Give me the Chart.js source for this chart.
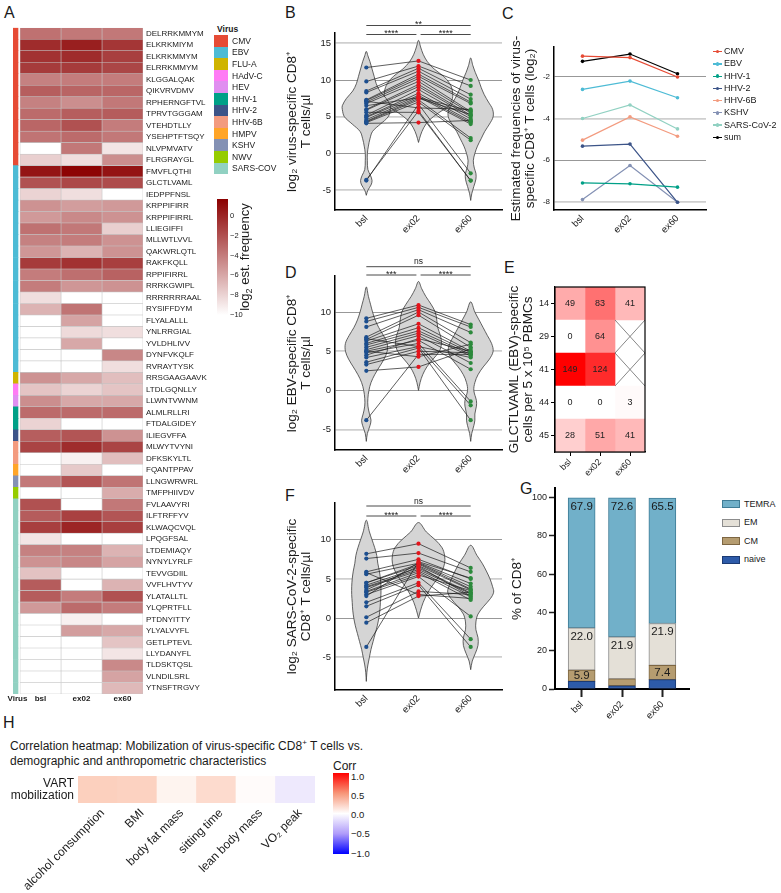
<!DOCTYPE html>
<html>
<head>
<meta charset="utf-8">
<script src="https://cdn.jsdelivr.net/npm/chart.js@4.4.1/dist/chart.umd.min.js"></script>
<style>
  body { margin: 0; background: #fff; font-family: "Liberation Sans", Arial, sans-serif; color: #1a1a1a; }
  #page { position: relative; width: 781px; height: 893px; overflow: hidden; background: #fff; }
  canvas { position: absolute; }
  .txt { position: absolute; white-space: nowrap; }
</style>
</head>
<body>
<div id="page"></div>
<script>
// ---------- Panel A: peptide heatmap ----------
const peptides = [
  "DELRRKMMYM", "ELKRKMIYM", "ELKRKMMYM", "ELRRKMMYM", "KLGGALQAK", "QIKVRVDMV", "RPHERNGFTVL", "TPRVTGGGAM",
  "VTEHDTLLY", "YSEHPTFTSQY", "NLVPMVATV", "FLRGRAYGL",
  "FMVFLQTHI", "GLCTLVAML", "IEDPPFNSL", "KRPPIFIRR", "KRPPIFIRRL", "LLIEGIFFI", "MLLWTLVVL", "QAKWRLQTL",
  "RAKFKQLL", "RPPIFIRRL", "RRRKGWIPL", "RRRRRRRAAL", "RYSIFFDYM", "FLYALALLL", "YNLRRGIAL", "YVLDHLIVV",
  "DYNFVKQLF", "RVRAYTYSK",
  "RRSGAAGAAVK", "LTDLGQNLLY", "LLWNTVWNM", "ALMLRLLRI", "FTDALGIDEY", "ILIEGVFFA", "MLWYTVYNI", "DFKSKYLTL",
  "FQANTPPAV", "LLNGWRWRL", "TMFPHIIVDV",
  "FVLAAVYRI", "ILFTRFFYV", "KLWAQCVQL", "LPQGFSAL", "LTDEMIAQY", "NYNYLYRLF", "TEVVGDIIL", "VVFLHVTYV",
  "YLATALLTL", "YLQPRTFLL", "PTDNYITTY", "YLYALVYFL", "GETLPTEVL", "LLYDANYFL", "TLDSKTQSL", "VLNDILSRL", "YTNSFTRGVY",
];
const virusNames = ["CMV", "EBV", "FLU-A", "HAdV-C", "HEV", "HHV-1", "HHV-2", "HHV-6B", "HMPV", "KSHV", "NWV", "SARS-COV"];
const virusColors = ["#E64B35", "#4DBBD5", "#CFB400", "#FF7BF5", "#E08EF0", "#00A087", "#3C5488", "#F39B7F", "#FFA528", "#8491B4", "#95CC00", "#91D1C2"];
// number of consecutive peptide rows belonging to each virus
const virusRowCounts = [12, 18, 1, 1, 1, 2, 1, 2, 1, 1, 1, 17];

// log2 estimated frequency per peptide
const freqBsl = [
  -3.5, -0.3, -0.6, -1.0, -4.2, -2.6, -4.2, -3.2, -3.0, -3.6, -10, -7.8,
  0.8, -2.0, -8.0, -5.0, -5.3, -3.5, -4.2, -5.2, -1.0, -4.0, -4.0, -8.5, -6.5, -10, -10, -10, -10, -10,
  -5.0, -7.3, -4.8, -3.2, -8.0, -2.6, -1.4, -10, -10, -3.8, -10,
  -2.0, -2.5, -1.2, -8.8, -4.2, -5.0, -7.2, -2.5, -2.5, -5.3, -10, -10, -10, -10, -10, -10, -10,
];
const freqEx02 = [
  -3.8, 0.3, -0.3, -1.0, -4.0, -2.9, -4.8, -2.6, -2.0, -3.2, -3.8, -8.5,
  1.5, -1.6, -8.5, -5.5, -4.6, -3.8, -4.0, -6.5, -0.6, -3.4, -5.2, -10, -3.6, -5.8, -8.3, -6.0, -10, -10,
  -6.0, -8.0, -6.0, -3.2, -10, -2.2, -0.3, -9.3, -7.5, -2.2, -10,
  -10, -1.3, 0.0, -10, -4.2, -4.5, -10, -10, -4.0, -3.2, -9.3, -5.5, -10, -10, -10, -10, -10,
];
const freqEx60 = [
  -3.8, -0.8, -1.2, -1.5, -4.0, -3.0, -3.8, -2.5, -4.0, -3.8, -8.8, -4.8,
  0.8, -1.8, -10, -5.3, -5.0, -7.8, -5.0, -5.0, -1.2, -2.8, -5.0, -10, -10, -10, -8.5, -10, -4.5, -8.5,
  -7.0, -7.3, -6.0, -3.2, -10, -5.0, -1.4, -7.0, -10, -3.6, -6.2,
  -3.8, -2.2, -1.2, -10, -6.5, -5.8, -10, -6.5, -2.0, -4.0, -10, -6.0, -7.3, -8.8, -4.6, -5.8, -6.8,
];
const freqColorbarTicks = [0, -2, -4, -6, -8, -10];

// ---------- Panels B, D, F: violins ----------
const groupLabels = ["bsl", "ex02", "ex60"];

const bslB = [11.7, 9.8, 8.5, 8.3, 7.3, 7.2, 7.0, 6.8, 6.0, 5.9, 5.2, 5.0, 4.9, 4.6, 4.4, 4.3, 4.2, 4.1, -3.7, -3.6, 7.1, 5.6, 6.5];
const ex02B = [12.6, 11.9, 11.6, 11.2, 10.8, 10.5, 10.2, 9.8, 9.4, 9.1, 8.7, 8.2, 7.9, 7.7, 7.5, 7.3, 7.0, 4.2, 6.7, 5.8, 6.2, 5.6, 7.6];
const ex60B = [10.0, 9.2, 8.0, 7.4, 7.0, 6.8, 5.7, 5.5, 5.2, 5.0, 4.7, 4.4, 4.2, 4.0, 5.3, 2.1, 1.8, 4.5, -2.7, -3.7, 6.0, -3.7, 5.8];

const bslD = [9.2, 8.8, 8.1, 6.8, 6.5, 6.3, 6.0, 5.8, 5.5, 5.2, 5.0, 4.8, 4.2, 3.6, 3.3, 2.5, -3.8, 5.0, 6.6, 4.5];
const ex02D = [10.9, 10.6, 10.3, 10.0, 9.6, 8.5, 8.0, 7.6, 7.3, 7.0, 6.4, 6.0, 5.6, 5.4, 5.0, 3.0, 4.6, 4.3, 5.6, 6.6];
const ex60D = [8.4, 8.1, 7.4, 6.1, 5.5, 5.0, 4.8, 4.6, 4.4, 3.5, 2.7, -1.4, -1.9, -3.8, 4.8, 5.3, 4.6, 5.9, 4.2, 5.0];

const bslF = [8.2, 7.6, 5.9, 5.6, 4.5, 4.2, 3.9, 3.4, 3.0, 2.0, 1.5, 0.1, -0.6, -3.7, 4.5, 3.6, 5.8, 3.3, 2.8, 4.0];
const ex02F = [9.5, 8.3, 7.5, 7.0, 6.7, 6.4, 6.0, 5.8, 5.3, 4.5, 4.2, 3.4, 2.8, 7.2, 6.9, 6.6, 3.0, 5.5, 7.1, 6.2];
const ex60F = [6.4, 5.9, 5.0, 4.0, 3.6, 3.2, 2.7, 2.3, 0.2, -2.7, -3.7, 3.0, 3.3, 5.1, 3.7, 2.8, 2.5, 3.5, 4.4, 3.1];

// violin outlines: density levels (y) and half widths (in category units)
const violinLevelsB_bsl = [-5.7, -5, -4.3, -3.7, -3, -2.2, -1, 0, 1, 2, 3, 4, 5, 6, 6.5, 7.5, 8.5, 9.5, 10.5, 11.5, 12.5, 13.3, 13.9];
const violinWidthsB_bsl = [0, 0.03, 0.09, 0.11, 0.08, 0.03, 0.02, 0.02, 0.04, 0.07, 0.12, 0.27, 0.42, 0.46, 0.46, 0.38, 0.26, 0.19, 0.15, 0.11, 0.07, 0.03, 0];
const violinLevelsB_ex02 = [1.5, 2.5, 3.5, 4.5, 5.5, 6.5, 7.5, 8.5, 9.5, 10.5, 11.5, 12.5, 13.5, 14.5, 15.4];
const violinWidthsB_ex02 = [0, 0.04, 0.1, 0.2, 0.38, 0.58, 0.65, 0.65, 0.6, 0.48, 0.3, 0.17, 0.09, 0.04, 0];
const violinLevelsB_ex60 = [-6.4, -5.5, -4.5, -3.5, -2.7, -2, -1, 0, 1, 2, 3, 4, 5, 6, 7, 8, 9, 10, 11, 12, 13];
const violinWidthsB_ex60 = [0, 0.02, 0.06, 0.1, 0.1, 0.07, 0.05, 0.08, 0.13, 0.2, 0.27, 0.36, 0.43, 0.42, 0.34, 0.26, 0.2, 0.15, 0.09, 0.04, 0];

const violinLevelsD_bsl = [-6.5, -5.5, -4.5, -3.8, -3, -2, -1, 0, 1, 2, 3, 4, 5, 6, 7, 8, 9, 10, 11, 12, 13.2];
const violinWidthsD_bsl = [0, 0.02, 0.07, 0.09, 0.06, 0.03, 0.03, 0.05, 0.09, 0.16, 0.25, 0.34, 0.4, 0.4, 0.33, 0.24, 0.17, 0.12, 0.08, 0.04, 0];
const violinLevelsD_ex02 = [0, 1, 2, 3, 4, 5, 6, 7, 8, 9, 10, 11, 12, 13, 13.9];
const violinWidthsD_ex02 = [0, 0.03, 0.08, 0.16, 0.28, 0.4, 0.44, 0.42, 0.37, 0.35, 0.32, 0.24, 0.14, 0.06, 0];
const violinLevelsD_ex60 = [-6.5, -5.5, -4.5, -3.8, -3, -2, -1.3, 0, 1, 2, 3, 4, 5, 6, 7, 8, 9, 10, 11.3];
const violinWidthsD_ex60 = [0, 0.02, 0.06, 0.08, 0.08, 0.11, 0.11, 0.06, 0.08, 0.14, 0.24, 0.36, 0.43, 0.4, 0.32, 0.24, 0.16, 0.08, 0];

const violinLevelsF_bsl = [-8.1, -7, -6, -5, -4, -3, -2, -1, 0, 1, 2, 3, 4, 5, 6, 7, 8, 9, 10, 11, 12.5];
const violinWidthsF_bsl = [0, 0.01, 0.03, 0.06, 0.09, 0.13, 0.17, 0.21, 0.24, 0.26, 0.27, 0.28, 0.28, 0.27, 0.25, 0.22, 0.2, 0.16, 0.11, 0.06, 0];
const violinLevelsF_ex02 = [0, 1, 2, 3, 4, 5, 6, 7, 8, 9, 10, 11, 12.2];
const violinWidthsF_ex02 = [0, 0.04, 0.09, 0.16, 0.25, 0.36, 0.45, 0.5, 0.5, 0.45, 0.32, 0.15, 0];
const violinLevelsF_ex60 = [-6.6, -5.5, -4.5, -3.5, -2.5, -1.5, -0.5, 0.5, 1.5, 2.5, 3.3, 4, 5, 6, 7, 8, 9.3];
const violinWidthsF_ex60 = [0, 0.03, 0.09, 0.14, 0.14, 0.1, 0.1, 0.14, 0.25, 0.38, 0.44, 0.42, 0.37, 0.3, 0.22, 0.12, 0];

// ---------- Panel C: estimated frequencies ----------
const cSeriesNames = ["CMV", "EBV", "HHV-1", "HHV-2", "HHV-6B", "KSHV", "SARS-CoV-2", "sum"];
const cSeriesColors = ["#E64B35", "#4DBBD5", "#00A087", "#3C5488", "#F39B7F", "#8491B4", "#91D1C2", "#000000"];
const cCMV = [-1.0, -1.07, -2.0];
const cEBV = [-2.6, -2.2, -3.0];
const cHHV1 = [-7.1, -7.14, -7.3];
const cHHV2 = [-5.33, -5.23, -8.03];
const cHHV6B = [-5.04, -3.92, -4.85];
const cKSHV = [-7.9, -6.26, -8.03];
const cSARS = [-4.0, -3.35, -4.5];
const cSum = [-1.25, -0.9, -1.85];

// ---------- Panel E: GLCTLVAML counts ----------
const eRows = ["14", "29", "41", "44", "45"];
const eBsl = [49, 0, 149, 0, 28];
const eEx02 = [83, 64, 124, 0, 51];
const eEx60 = [41, null, null, 3, 41];

// ---------- Panel G: CD8 subsets ----------
const gSubsets = ["naive", "CM", "EM", "TEMRA"];
const gNaive = [4.0, 1.7, 4.9];
const gCM = [5.9, 3.6, 7.4];
const gEM = [22.0, 21.9, 21.9];
const gTEMRA = [67.9, 72.6, 65.5];
const gFill = ["#2d5ba9", "#b59c70", "#e4e0d7", "#71b0c9"];
const gBorder = ["#1b3a73", "#7d6642", "#8c8c8c", "#3f7c96"];

// ---------- Panel H: correlations ----------
const hTraits = ["alcohol consumption", "BMI", "body fat mass", "sitting time", "lean body mass", "VO₂ peak"];
const hCorr = [0.25, 0.24, 0.06, 0.19, 0.02, -0.14];
const corrColorbarTicks = ["1.0", "0.5", "0.0", "−0.5", "−1.0"];

// ================= helpers =================
const FONT = '"Liberation Sans", Arial, sans-serif';
Chart.defaults.font.family = FONT;
Chart.defaults.color = "#1a1a1a";
Chart.defaults.animation = false;
Chart.defaults.events = [];
Chart.defaults.plugins.legend.display = false;
Chart.defaults.plugins.tooltip.enabled = false;

const page = document.getElementById("page");

const makeCanvas = (left, top, width, height) => {
  const canvas = document.createElement("canvas");
  canvas.width = width;
  canvas.height = height;
  canvas.style.left = `${left}px`;
  canvas.style.top = `${top}px`;
  canvas.style.width = `${width}px`;
  canvas.style.height = `${height}px`;
  page.appendChild(canvas);
  return canvas;
};

const addText = (html, left, top, style = "") => {
  const div = document.createElement("div");
  div.className = "txt";
  div.innerHTML = html;
  div.style.cssText += `left:${left}px;top:${top}px;${style}`;
  page.appendChild(div);
  return div;
};

const fixWidth = (w) => (scale) => { scale.width = w; };
const fixHeight = (h) => (scale) => { scale.height = h; };
const setTicks = (values) => (axis) => { axis.ticks = values.map((value) => ({ value })); };

const baseOptions = (padding) => ({
  responsive: false,
  maintainAspectRatio: false,
  devicePixelRatio: 1,
  layout: { padding },
});

// white -> dark red, value range -10..1.7
const freqColor = (v) => {
  const t = Math.max(0, Math.min(1, (v + 10) / 11.7));
  const r = Math.round(255 - 116 * t);
  const gb = Math.round(255 * (1 - t));
  return `rgb(${r},${gb},${gb})`;
};

// white -> red, counts 0..149
const countColor = (v) => {
  if (v === null) return "rgba(0,0,0,0)";
  const gb = Math.round(255 * (1 - v / 149));
  return `rgb(255,${gb},${gb})`;
};

// blue - white - red (Lab-like stops)
const corrColor = (v) => {
  const pos = [[0, [255, 255, 255]], [0.25, [252, 208, 190]], [0.5, [247, 150, 120]], [1, [255, 0, 0]]];
  const neg = [[0, [255, 255, 255]], [0.25, [225, 215, 252]], [0.5, [175, 155, 250]], [1, [0, 0, 255]]];
  const stops = v >= 0 ? pos : neg;
  const a = Math.abs(v);
  for (let i = 1; i < stops.length; i++) {
    if (a <= stops[i][0]) {
      const [t0, c0] = stops[i - 1];
      const [t1, c1] = stops[i];
      const f = (a - t0) / (t1 - t0);
      const c = c0.map((ch, k) => Math.round(ch + (c1[k] - ch) * f));
      return `rgb(${c.join(",")})`;
    }
  }
  return `rgb(${stops[stops.length - 1][1].join(",")})`;
};

// significance brackets above violin panels
const sigBrackets = {
  id: "sigBrackets",
  afterDraw(chart, args, opts) {
    if (!opts.rows) return;
    const { ctx } = chart;
    const x = chart.scales.x;
    ctx.save();
    ctx.strokeStyle = "#4a4a4a";
    ctx.lineWidth = 1;
    ctx.fillStyle = "#222";
    ctx.textAlign = "center";
    opts.rows.forEach(({ y, spans }) => {
      spans.forEach(([a, b, label]) => {
        const x0 = x.getPixelForValue(a);
        const x1 = x.getPixelForValue(b);
        ctx.beginPath();
        ctx.moveTo(x0, y);
        ctx.lineTo(x1, y);
        ctx.stroke();
        if (label === "ns") {
          ctx.font = `8.5px ${FONT}`;
          ctx.textBaseline = "alphabetic";
          ctx.fillText(label, (x0 + x1) / 2, y - 2.5);
        } else {
          ctx.font = `9px ${FONT}`;
          ctx.textBaseline = "alphabetic";
          ctx.fillText(label, (x0 + x1) / 2, y + 1.5);
        }
      });
    });
    ctx.restore();
  },
};

const gridAlt = (lightTest) => ({
  color: (c) => (c.tick && lightTest(c.tick.value) ? "#cfcfcf" : "#8c8c8c"),
  lineWidth: (c) => (c.tick && lightTest(c.tick.value) ? 1.8 : 0.9),
  drawTicks: false,
});

const buildViolin = (levels, widths, center) => {
  const left = levels.map((y, k) => ({ x: center - widths[k], y }));
  const right = levels.map((y, k) => ({ x: center + widths[k], y })).reverse().slice(1);
  return left.concat(right);
};

const groupColors = ["#1d4f8f", "#e4141b", "#2c8a3c"];

const drawViolinPanel = ({ canvas, padding, values, violins, yMin, yMax, yTicks, title, brackets }) => {
  const datasets = [];

  // subject points
  groupColors.forEach((color, g) => {
    datasets.push({
      data: values[g].map((y) => ({ x: g, y })),
      showLine: false,
      pointRadius: 2.1,
      pointBackgroundColor: color,
      pointBorderWidth: 0,
      order: 0,
    });
  });

  // paired lines per subject
  values[0].forEach((_, i) => {
    datasets.push({
      data: groupLabels.map((__, g) => ({ x: g, y: values[g][i] })),
      borderColor: "#1a1a1a",
      borderWidth: 0.7,
      pointRadius: 0,
      order: 1,
    });
  });

  // violin shapes
  violins.forEach(([levels, widths], g) => {
    datasets.push({
      data: buildViolin(levels, widths, g),
      fill: "shape",
      backgroundColor: "#d5d5d5",
      borderColor: "#3c3c3c",
      borderWidth: 0.8,
      pointRadius: 0,
      tension: 0.35,
      order: 2,
    });
  });

  return new Chart(canvas, {
    type: "line",
    data: { datasets },
    options: {
      ...baseOptions(padding),
      plugins: { sigBrackets: brackets },
      scales: {
        x: {
          type: "linear",
          min: -0.6,
          max: 2.6,
          afterBuildTicks: setTicks([0, 1, 2]),
          afterFit: fixHeight(30),
          ticks: {
            callback: (v) => groupLabels[v],
            autoSkip: false,
            maxRotation: 45,
            minRotation: 45,
            padding: 3,
            font: { size: 9.5 },
          },
          grid: { display: false, drawTicks: false },
          border: { color: "#000", width: 1.5 },
        },
        y: {
          min: yMin,
          max: yMax,
          afterBuildTicks: setTicks(yTicks),
          afterFit: fixWidth(49),
          ticks: { padding: 4, font: { size: 9.5 } },
          grid: gridAlt((v) => Math.abs(v / 5) % 2 === 1),
          border: { color: "#000", width: 1.5 },
          title: { display: true, text: title, padding: 0, font: { size: 13.5, lineHeight: 1.0 } },
        },
      },
    },
    plugins: [sigBrackets],
  });
};

// ================= Panel letters =================
[["A", 4, 5], ["B", 285, 5], ["C", 502, 6], ["D", 285, 265], ["E", 504, 260], ["F", 285, 488], ["G", 520, 481], ["H", 3, 715]]
  .forEach(([letter, left, top]) => addText(letter, left, top, "font-size:16px;line-height:16px;"));

// ================= Panel A =================
const peptideVirus = [];
virusRowCounts.forEach((n, v) => { for (let i = 0; i < n; i++) peptideVirus.push(v); });

const aCanvas = makeCanvas(0, 20, 215, 690);
const heatColumns = [freqBsl, freqEx02, freqEx60];
const aColumnTicks = [-0.061, 0.5, 1.5, 2.5];
const aColumnLabels = ["Virus", "bsl", "ex02", "ex60"];

new Chart(aCanvas, {
  type: "bar",
  data: {
    labels: peptides,
    datasets: [
      {
        data: peptides.map(() => [-0.171, -0.049]),
        backgroundColor: peptideVirus.map((v) => virusColors[v]),
        borderWidth: 0,
        grouped: false,
        barPercentage: 1,
        categoryPercentage: 1,
      },
      ...heatColumns.map((col, c) => ({
        data: col.map(() => [c, c + 1]),
        backgroundColor: col.map(freqColor),
        borderColor: "#c4c4c4",
        borderWidth: 0.6,
        borderSkipped: false,
        grouped: false,
        barPercentage: 1,
        categoryPercentage: 1,
      })),
    ],
  },
  options: {
    ...baseOptions({ left: 13, top: 3, right: 0, bottom: 0 }),
    indexAxis: "y",
    scales: {
      x: {
        type: "linear",
        min: -0.171,
        max: 3,
        afterBuildTicks: setTicks(aColumnTicks),
        afterFit: fixHeight(16),
        ticks: {
          callback: (v, i) => aColumnLabels[i],
          autoSkip: false,
          maxRotation: 0,
          padding: 0,
          font: { size: 8, weight: "bold" },
        },
        grid: { display: false, drawTicks: false },
        border: { display: false },
      },
      y: {
        position: "right",
        afterFit: fixWidth(72),
        ticks: { autoSkip: false, padding: 3, font: { size: 8 } },
        grid: { display: false, drawTicks: false },
        border: { display: false },
      },
    },
  },
});

// virus legend
addText("Virus", 217, 24, "font-size:8.5px;line-height:10px;font-weight:bold;");
virusNames.forEach((name, i) => {
  const top = 35 + i * 11.6;
  const box = document.createElement("div");
  box.style.cssText = `position:absolute;left:214px;top:${top}px;width:14px;height:11.6px;background:${virusColors[i]};`;
  page.appendChild(box);
  addText(name, 232, top + 0.8, "font-size:8.5px;line-height:10px;");
});

// frequency colorbar
const freqBar = document.createElement("div");
freqBar.style.cssText = `position:absolute;left:217px;top:199px;width:11px;height:116px;background:linear-gradient(to bottom, ${freqColor(1.7)}, #ffffff);`;
page.appendChild(freqBar);
freqColorbarTicks.forEach((v) => {
  addText(String(v).replace("-", "−"), 230, 216 - v * 9.9 - 5, "font-size:7.5px;line-height:10px;");
});
addText("log<sub style='font-size:9px'>2</sub> est. frequency", 247, 257,
  "font-size:13px;line-height:14px;transform:translate(-50%,-50%) rotate(-90deg);transform-origin:center;");

// ================= Panel B =================
drawViolinPanel({
  canvas: makeCanvas(280, 0, 230, 240),
  padding: { left: 6, top: 33, right: 8, bottom: 0 },
  values: [bslB, ex02B, ex60B],
  violins: [[violinLevelsB_bsl, violinWidthsB_bsl], [violinLevelsB_ex02, violinWidthsB_ex02], [violinLevelsB_ex60, violinWidthsB_ex60]],
  yMin: -7.7,
  yMax: 16.4,
  yTicks: [-5, 0, 5, 10, 15],
  title: ["log₂ virus-specific CD8⁺", "T cells/µl"],
  brackets: {
    rows: [
      { y: 25.5, spans: [[0, 2, "**"]] },
      { y: 34.5, spans: [[0, 0.96, "****"], [1.04, 2, "****"]] },
    ],
  },
});

// ================= Panel D =================
drawViolinPanel({
  canvas: makeCanvas(280, 250, 230, 230),
  padding: { left: 6, top: 26, right: 8, bottom: 0 },
  values: [bslD, ex02D, ex60D],
  violins: [[violinLevelsD_bsl, violinWidthsD_bsl], [violinLevelsD_ex02, violinWidthsD_ex02], [violinLevelsD_ex60, violinWidthsD_ex60]],
  yMin: -7.6,
  yMax: 14.6,
  yTicks: [-5, 0, 5, 10],
  title: ["log₂ EBV-specific CD8⁺", "T cells/µl"],
  brackets: {
    rows: [
      { y: 16.7, spans: [[0, 2, "ns"]] },
      { y: 25, spans: [[0, 0.96, "***"], [1.04, 2, "****"]] },
    ],
  },
});

// ================= Panel F =================
drawViolinPanel({
  canvas: makeCanvas(280, 480, 230, 240),
  padding: { left: 6, top: 23, right: 8, bottom: 0 },
  values: [bslF, ex02F, ex60F],
  violins: [[violinLevelsF_bsl, violinWidthsF_bsl], [violinLevelsF_ex02, violinWidthsF_ex02], [violinLevelsF_ex60, violinWidthsF_ex60]],
  yMin: -9.2,
  yMax: 14.7,
  yTicks: [-5, 0, 5, 10],
  title: ["log₂ SARS-CoV-2-specific", "CD8⁺ T cells/µl"],
  brackets: {
    rows: [
      { y: 26, spans: [[0, 2, "ns"]] },
      { y: 36, spans: [[0, 0.96, "****"], [1.04, 2, "****"]] },
    ],
  },
});

// ================= Panel C =================
const cSeries = [cCMV, cEBV, cHHV1, cHHV2, cHHV6B, cKSHV, cSARS, cSum];

new Chart(makeCanvas(505, 0, 205, 240), {
  type: "line",
  data: {
    datasets: cSeries.map((vals, s) => ({
      data: vals.map((y, i) => ({ x: i, y })),
      borderColor: cSeriesColors[s],
      backgroundColor: cSeriesColors[s],
      borderWidth: 1.2,
      pointRadius: 1.8,
      pointBorderWidth: 0,
    })),
  },
  options: {
    ...baseOptions({ left: 5, top: 47, right: 3, bottom: 0 }),
    scales: {
      x: {
        type: "linear",
        min: -0.6,
        max: 2.6,
        afterBuildTicks: setTicks([0, 1, 2]),
        afterFit: fixHeight(30),
        ticks: {
          callback: (v) => groupLabels[v],
          autoSkip: false,
          maxRotation: 45,
          minRotation: 45,
          padding: 3,
          font: { size: 9.5 },
        },
        grid: { display: false, drawTicks: false },
        border: { color: "#000", width: 1.5 },
      },
      y: {
        min: -8.4,
        max: -0.56,
        afterBuildTicks: setTicks([-8, -6, -4, -2]),
        afterFit: fixWidth(44),
        ticks: { padding: 4, font: { size: 8 } },
        grid: gridAlt((v) => v % 4 === 0),
        border: { color: "#000", width: 1.5 },
        title: {
          display: true,
          text: ["Estimated frequencies of virus-", "specific CD8⁺ T cells (log₂)"],
          padding: 0,
          font: { size: 13.5, lineHeight: 1.0 },
        },
      },
    },
  },
});

// C legend
cSeriesNames.forEach((name, i) => {
  const cy = 51.7 + i * 12.23;
  const line = document.createElement("div");
  line.style.cssText = `position:absolute;left:713px;top:${cy - 0.6}px;width:9px;height:1.2px;background:${cSeriesColors[i]};`;
  page.appendChild(line);
  const dot = document.createElement("div");
  dot.style.cssText = `position:absolute;left:${717.5 - 1.8}px;top:${cy - 1.8}px;width:3.6px;height:3.6px;border-radius:50%;background:${cSeriesColors[i]};`;
  page.appendChild(dot);
  addText(name, 724, cy - 5.5, "font-size:9px;line-height:11px;");
});

// ================= Panel E =================
const eColumns = [eBsl, eEx02, eEx60];

const cellText = {
  id: "cellText",
  afterDatasetsDraw(chart) {
    const { ctx, chartArea } = chart;
    const xs = chart.scales.x;
    const ys = chart.scales.y;
    const rowH = (chartArea.bottom - chartArea.top) / eRows.length;
    ctx.save();
    ctx.font = `9px ${FONT}`;
    ctx.fillStyle = "#222";
    ctx.textAlign = "center";
    ctx.textBaseline = "middle";
    chart.data.datasets.forEach((ds, di) => {
      ds.counts.forEach((v, i) => {
        const x0 = xs.getPixelForValue(di);
        const x1 = xs.getPixelForValue(di + 1);
        const yc = ys.getPixelForValue(i);
        if (v === null) {
          ctx.strokeStyle = "#6a6a6a";
          ctx.lineWidth = 0.8;
          ctx.beginPath();
          ctx.moveTo(x0, yc - rowH / 2);
          ctx.lineTo(x1, yc + rowH / 2);
          ctx.moveTo(x1, yc - rowH / 2);
          ctx.lineTo(x0, yc + rowH / 2);
          ctx.stroke();
        } else {
          ctx.fillText(String(v), (x0 + x1) / 2, yc);
        }
      });
    });
    ctx.strokeStyle = "#000";
    ctx.lineWidth = 1.2;
    ctx.strokeRect(chartArea.left, chartArea.top, chartArea.right - chartArea.left, chartArea.bottom - chartArea.top);
    ctx.restore();
  },
};

new Chart(makeCanvas(505, 250, 150, 230), {
  type: "bar",
  data: {
    labels: eRows,
    datasets: eColumns.map((col, c) => ({
      data: col.map((v) => (v === null ? null : [c, c + 1])),
      counts: col,
      backgroundColor: col.map(countColor),
      borderWidth: 0,
      grouped: false,
      barPercentage: 1,
      categoryPercentage: 1,
    })),
  },
  options: {
    ...baseOptions({ left: 3, top: 37, right: 10, bottom: 0 }),
    indexAxis: "y",
    scales: {
      x: {
        type: "linear",
        min: 0,
        max: 3,
        afterBuildTicks: setTicks([0.5, 1.5, 2.5]),
        afterFit: fixHeight(28),
        ticks: {
          callback: (v, i) => groupLabels[i],
          autoSkip: false,
          maxRotation: 45,
          minRotation: 45,
          padding: 1,
          font: { size: 9 },
        },
        grid: { drawOnChartArea: false, tickLength: 4, color: "#000", tickColor: "#000" },
        border: { color: "#000", width: 1.2 },
      },
      y: {
        afterFit: fixWidth(47),
        ticks: { padding: 2, font: { size: 9 } },
        grid: { drawOnChartArea: false, offset: false, tickLength: 4, color: "#000", tickColor: "#000" },
        border: { color: "#000", width: 1.2 },
        title: {
          display: true,
          text: ["GLCTLVAML (EBV)-specific", "cells per 5 x 10⁵ PBMCs"],
          padding: 0,
          font: { size: 13.5, lineHeight: 1.0 },
        },
      },
    },
  },
  plugins: [cellText],
});

// ================= Panel G =================
const gValues = [gNaive, gCM, gEM, gTEMRA];
const gLabelMode = [null, "center", "top", "top"];
const gBase = [0, 0, 0];
const gDatasets = gValues.map((vals, s) => {
  const data = vals.map((v, i) => {
    const point = { x: i, y: [gBase[i], gBase[i] + v] };
    gBase[i] += v;
    return point;
  });
  return {
    label: gSubsets[s],
    data,
    values: vals,
    labelMode: gLabelMode[s],
    backgroundColor: gFill[s],
    borderColor: gBorder[s],
    borderWidth: 1,
    borderSkipped: false,
    barThickness: 27,
    grouped: false,
  };
});

const segmentLabels = {
  id: "segmentLabels",
  afterDatasetsDraw(chart) {
    const { ctx } = chart;
    ctx.save();
    ctx.font = `11.5px ${FONT}`;
    ctx.fillStyle = "#1a1a1a";
    ctx.textAlign = "center";
    ctx.textBaseline = "middle";
    chart.data.datasets.forEach((ds, di) => {
      if (!ds.labelMode) return;
      chart.getDatasetMeta(di).data.forEach((el, i) => {
        const v = ds.values[i];
        if (v < 5) return;
        const y = ds.labelMode === "top" ? el.y + 8.5 : (el.y + el.base) / 2;
        ctx.fillText(v.toFixed(1), el.x, y);
      });
    });
    ctx.restore();
  },
};

new Chart(makeCanvas(505, 470, 190, 250), {
  type: "bar",
  data: { datasets: gDatasets },
  options: {
    ...baseOptions({ left: 6, top: 18, right: 6, bottom: 0 }),
    scales: {
      x: {
        type: "linear",
        offset: false,
        min: -0.66,
        max: 2.66,
        afterBuildTicks: setTicks([0, 1, 2]),
        afterFit: fixHeight(31),
        ticks: {
          callback: (v) => groupLabels[v],
          autoSkip: false,
          maxRotation: 45,
          minRotation: 45,
          padding: 2,
          font: { size: 9.5 },
        },
        grid: { drawOnChartArea: false, offset: false, tickLength: 8, tickWidth: 2, tickColor: "#222", color: "#222" },
        border: { color: "#000", width: 2 },
      },
      y: {
        min: 0,
        max: 105,
        afterBuildTicks: setTicks([0, 20, 40, 60, 80, 100]),
        afterFit: fixWidth(44),
        ticks: { padding: 2, font: { size: 9 } },
        grid: { drawOnChartArea: false, tickLength: 6, tickWidth: 1.5, tickColor: "#222", color: "#222" },
        border: { color: "#000", width: 2 },
        title: { display: true, text: "% of CD8⁺", padding: 0, font: { size: 13.5, lineHeight: 1.0 } },
      },
    },
  },
  plugins: [segmentLabels],
});

// G legend (top to bottom: TEMRA, EM, CM, naive)
[3, 2, 1, 0].forEach((s, i) => {
  const cy = 504 + i * 18.5;
  const box = document.createElement("div");
  box.style.cssText = `position:absolute;left:722px;top:${cy - 4}px;width:16px;height:6px;background:${gFill[s]};border:1px solid ${gBorder[s]};`;
  page.appendChild(box);
  addText(gSubsets[s], 744, cy - 5.5, "font-size:9px;line-height:11px;");
});

// ================= Panel H =================
addText("Correlation heatmap: Mobilization of virus-specific CD8<sup style='font-size:8px'>+</sup> T cells vs.<br>demographic and anthropometric characteristics",
  10, 735, "font-size:12px;line-height:15px;");

new Chart(makeCanvas(0, 760, 330, 133), {
  type: "bar",
  data: {
    labels: hTraits,
    datasets: [{
      data: hTraits.map(() => [0, 1]),
      backgroundColor: hCorr.map(corrColor),
      borderWidth: 0,
      barPercentage: 1,
      categoryPercentage: 1,
    }],
  },
  options: {
    ...baseOptions({ left: 0, top: 16, right: 15, bottom: 0 }),
    scales: {
      x: {
        afterFit: fixHeight(90),
        ticks: { autoSkip: false, maxRotation: 45, minRotation: 45, padding: 3, labelOffset: 5, font: { size: 12 } },
        grid: { display: false, drawTicks: false },
        border: { display: false },
      },
      y: {
        min: 0,
        max: 1,
        afterBuildTicks: setTicks([0.5]),
        afterFit: fixWidth(78),
        ticks: { callback: () => ["VART", "mobilization"], padding: 4, font: { size: 12, lineHeight: 1.0 } },
        grid: { display: false, drawTicks: false },
        border: { display: false },
      },
    },
  },
});

// correlation colorbar
addText("Corr", 333, 759, "font-size:12px;line-height:14px;");
const corrBar = document.createElement("div");
corrBar.style.cssText = `position:absolute;left:333px;top:773px;width:16px;height:81px;background:linear-gradient(to bottom, ${corrColor(1)}, ${corrColor(0.5)} 25%, #ffffff 50%, ${corrColor(-0.5)} 75%, ${corrColor(-1)});`;
page.appendChild(corrBar);
corrColorbarTicks.forEach((label, i) => {
  addText(label, 351, 776 + i * 19.3 - 5.5, "font-size:9.5px;line-height:11px;");
});
</script>
</body>
</html>
